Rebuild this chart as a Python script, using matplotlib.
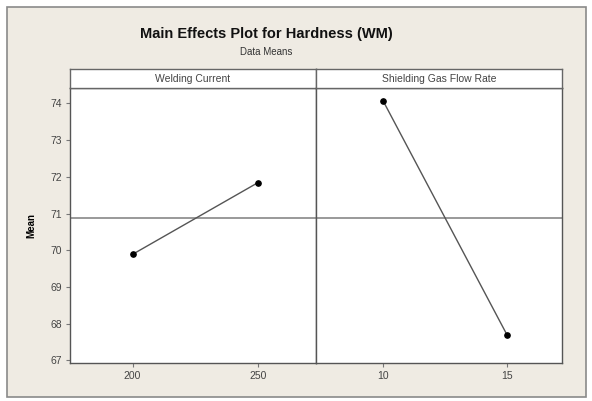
import matplotlib
matplotlib.use("Agg")
import matplotlib.pyplot as plt
from matplotlib.patches import Rectangle

factors = ["Welding Current", "Shielding Gas Flow Rate"]
levels_current = ["200", "250"]
means_current = [69.89, 71.84]
levels_gas = ["10", "15"]
means_gas = [74.07, 67.68]
yticks = [67, 68, 69, 70, 71, 72, 73, 74]

W, H = 592, 401
fig = plt.figure(figsize=(W / 100, H / 100), dpi=100)
fig.patch.set_facecolor("white")

bg = "#efebe3"
bax = fig.add_axes([0, 0, 1, 1], zorder=-10)
bax.set_xlim(0, W)
bax.set_ylim(H, 0)
bax.axis("off")
bax.add_patch(Rectangle((7, 7), 586 - 7, 397 - 7, facecolor=bg,
                        edgecolor="#8a8a8a", linewidth=1.2))

fig.text(266 / W, 1 - 34 / H, "Main Effects Plot for Hardness (WM)", ha="center",
         va="center", fontsize=10.5, fontweight="bold", family="Liberation Sans", color="#111111")
fig.text(266 / W, 1 - 52 / H, "Data Means", ha="center", va="center", fontsize=7,
         family="Liberation Sans", color="#333333")

left, mid, right = 70, 316, 562
top, bottom, strip_top = 88, 363, 69
grand = (sum(means_current) + sum(means_gas)) / 4

data = [(levels_current, means_current), (levels_gas, means_gas)]
xlims = [(-0.5, 1.465), (-0.54, 1.44)]
for i, (x0, x1) in enumerate([(left, mid), (mid, right)]):
    ax = fig.add_axes([x0 / W, 1 - bottom / H, (x1 - x0) / W, (bottom - top) / H])
    labels, vals = data[i]
    xs = list(range(len(labels)))
    ax.axhline(grand, color="#888888", linewidth=1.2, zorder=1)
    ax.plot(xs, vals, color="#555555", linewidth=1.0, marker="o", markersize=3.8,
            markerfacecolor="black", markeredgecolor="black", zorder=3)
    ax.set_xlim(*xlims[i])
    ax.set_ylim(66.93, 74.42)
    ax.set_xticks(xs)
    ax.set_xticklabels(labels)
    ax.set_yticks(yticks)
    for s in ax.spines.values():
        s.set_color("#555555")
        s.set_linewidth(1.0)
    ax.tick_params(axis="both", direction="out", length=3, width=0.8, colors="#777777",
                   labelsize=7.5, labelcolor="#444444", pad=3)
    if i == 0:
        ax.set_ylabel("Mean", fontsize=7, fontweight="bold", family="Liberation Sans", labelpad=10)
    else:
        ax.tick_params(axis="y", left=False, labelleft=False)
    for lab in ax.get_xticklabels() + ax.get_yticklabels():
        lab.set_family("Liberation Sans")
    ax.set_facecolor("white")

    sax = fig.add_axes([x0 / W, 1 - top / H, (x1 - x0) / W, (top - strip_top) / H])
    sax.set_facecolor("white")
    sax.set_xticks([])
    sax.set_yticks([])
    for s in sax.spines.values():
        s.set_color("#666666")
        s.set_linewidth(1.0)
    sax.text(0.5, 0.5, factors[i], ha="center", va="center", fontsize=7.5,
             family="Liberation Sans", color="#444444", transform=sax.transAxes)

fig.savefig("out.png", dpi=100, facecolor=fig.get_facecolor())
